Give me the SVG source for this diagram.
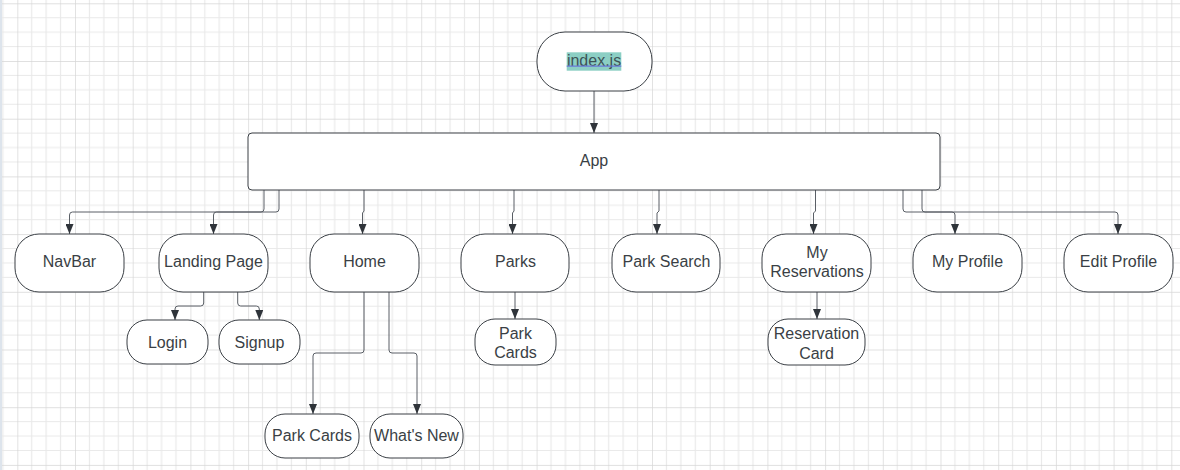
<svg xmlns="http://www.w3.org/2000/svg" width="1180" height="470" viewBox="0 0 1180 470">
<style>
.node{fill:#ffffff;stroke:#3a3f45;stroke-width:1}
.lbl{font-family:"Liberation Sans",Arial,sans-serif;font-size:16px;fill:#3a3f45;text-anchor:middle}
.conn path{fill:none;stroke:#5a5f66;stroke-width:1}
</style>
<defs>
<pattern id="grid" patternUnits="userSpaceOnUse" x="17.3" y="3.3" width="57.7" height="57.7">
<path d="M14.425,0V57.7M28.85,0V57.7M43.275,0V57.7M0,14.425H57.7M0,28.85H57.7M0,43.275H57.7" stroke="#e9e9e9" stroke-width="1.2" fill="none"/>
<path d="M0,0V57.7M0,0H57.7" stroke="#d6d6d6" stroke-width="1.4" fill="none"/>
</pattern>
<marker id="arr" viewBox="0 0 10 8" refX="10" refY="4" markerWidth="10" markerHeight="8" markerUnits="userSpaceOnUse" orient="auto">
<path d="M0,0L10,4L0,8z" fill="#2f343a"/>
</marker>
</defs>
<rect width="1180" height="470" fill="#ffffff"/>
<rect width="1180" height="470" fill="url(#grid)"/>
<rect x="0" y="0" width="2" height="470" fill="#dde4ec"/>

<g class="conn">
<path d="M594,91V133" marker-end="url(#arr)"/>
<path d="M264,190V209Q264,212 261,212H72.5Q69.5,212 69.5,215V234" marker-end="url(#arr)"/>
<path d="M279,190V209Q279,212 276,212H216.5Q213.5,212 213.5,215V234" marker-end="url(#arr)"/>
<path d="M364,190V211L362.5,213V234" marker-end="url(#arr)"/>
<path d="M514,190V211L512.5,213V234" marker-end="url(#arr)"/>
<path d="M659,190V211L657,213V234" marker-end="url(#arr)"/>
<path d="M815.5,190V211L813.5,213V234" marker-end="url(#arr)"/>
<path d="M903,190V209Q903,212 906,212H952Q955,212 955,215V234" marker-end="url(#arr)"/>
<path d="M922,190V209Q922,212 925,212H1115Q1118,212 1118,215V234" marker-end="url(#arr)"/>
<path d="M203.7,292V303Q203.7,306 200.7,306H178Q175,306 175,309V320" marker-end="url(#arr)"/>
<path d="M237.7,292V303Q237.7,306 240.7,306H256.3Q259.3,306 259.3,309V320" marker-end="url(#arr)"/>
<path d="M515,292V319" marker-end="url(#arr)"/>
<path d="M817,292V319" marker-end="url(#arr)"/>
<path d="M364,292V350Q364,353 361,353H316Q313,353 313,356V414" marker-end="url(#arr)"/>
<path d="M389,292V350Q389,353 392,353H414Q417,353 417,356V414" marker-end="url(#arr)"/>
</g>

<g id="index">
<rect class="node" x="537" y="32" width="115" height="59" rx="28" ry="28"/>
<rect x="566.7" y="52.3" width="54.6" height="18.4" fill="#8ccfc4"/>
<text class="lbl" x="594" y="65.5" style="fill:#3d5357">index.js</text>
<line x1="566.7" y1="66.2" x2="621.3" y2="66.2" stroke="#6a78d8" stroke-width="1.2"/>
</g>
<g id="app">
<rect class="node" x="248" y="133" width="692" height="57" rx="4" ry="4"/>
<text class="lbl" x="594" y="165.5">App</text>
</g>
<g id="navbar">
<rect class="node" x="15" y="234" width="109" height="58" rx="24" ry="24"/>
<text class="lbl" x="69.5" y="266.5">NavBar</text>
</g>
<g id="landing">
<rect class="node" x="159" y="234" width="109" height="58" rx="24" ry="24"/>
<text class="lbl" x="213.5" y="266.5">Landing Page</text>
</g>
<g id="home">
<rect class="node" x="310" y="234" width="109" height="58" rx="24" ry="24"/>
<text class="lbl" x="364.5" y="266.5">Home</text>
</g>
<g id="parks">
<rect class="node" x="461" y="234" width="108" height="58" rx="24" ry="24"/>
<text class="lbl" x="515.5" y="266.5">Parks</text>
</g>
<g id="parksearch">
<rect class="node" x="612" y="234" width="108" height="58" rx="24" ry="24"/>
<text class="lbl" x="666.5" y="266.5">Park Search</text>
</g>
<g id="myres">
<rect class="node" x="762" y="234" width="109" height="58" rx="24" ry="24"/>
<text class="lbl" x="817" y="257.5">My</text>
<text class="lbl" x="817" y="276.5">Reservations</text>
</g>
<g id="myprofile">
<rect class="node" x="913" y="234" width="109" height="58" rx="24" ry="24"/>
<text class="lbl" x="967.5" y="266.5">My Profile</text>
</g>
<g id="editprofile">
<rect class="node" x="1064" y="234" width="109" height="58" rx="24" ry="24"/>
<text class="lbl" x="1118.5" y="266.5">Edit Profile</text>
</g>
<g id="login">
<rect class="node" x="127" y="320" width="81" height="44" rx="20" ry="20"/>
<text class="lbl" x="167.5" y="347.5">Login</text>
</g>
<g id="signup">
<rect class="node" x="219" y="320" width="81" height="44" rx="20" ry="20"/>
<text class="lbl" x="259.5" y="347.5">Signup</text>
</g>
<g id="parkcards1">
<rect class="node" x="475" y="319" width="81" height="46" rx="20" ry="20"/>
<text class="lbl" x="515.5" y="339">Park</text>
<text class="lbl" x="515.5" y="358">Cards</text>
</g>
<g id="rescard">
<rect class="node" x="768" y="319" width="97" height="46" rx="20" ry="20"/>
<text class="lbl" x="816.5" y="339">Reservation</text>
<text class="lbl" x="816.5" y="358.5">Card</text>
</g>
<g id="parkcards2">
<rect class="node" x="265" y="414" width="94" height="44" rx="20" ry="20"/>
<text class="lbl" x="312" y="441">Park Cards</text>
</g>
<g id="whatsnew">
<rect class="node" x="370" y="414" width="93" height="44" rx="20" ry="20"/>
<text class="lbl" x="416.5" y="441">What's New</text>
</g>
</svg>
